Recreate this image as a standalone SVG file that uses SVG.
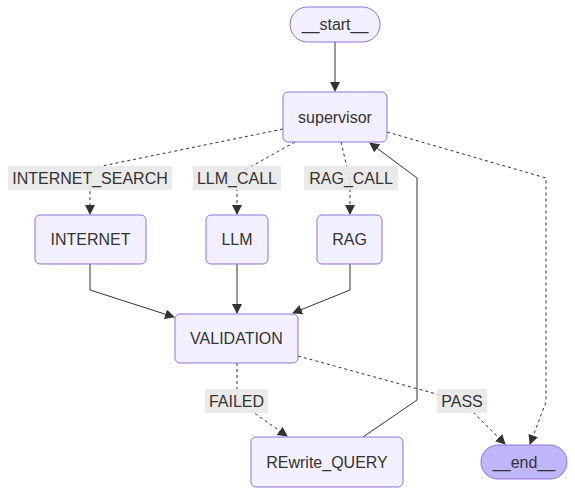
<svg xmlns="http://www.w3.org/2000/svg" width="575" height="495" viewBox="0 0 575 495">
<defs>
<marker id="ah" viewBox="0 0 10 10" refX="9" refY="5" markerWidth="10" markerHeight="10" markerUnits="userSpaceOnUse" orient="auto">
<path d="M0,0 L10,5 L0,10 z" fill="#333"/>
</marker>
<style>
.node rect{fill:#f2f0ff;stroke:#9370db;stroke-width:1}
.node.term rect{fill:#f2f0ff}
.node.endn rect{fill:#bfb6fc}
text{font-family:"Liberation Sans",Arial,sans-serif;font-size:16px;fill:#333;text-anchor:middle;dominant-baseline:central}
.e{fill:none;stroke:#333;stroke-width:1}
.d{stroke-dasharray:3 3}
.lbl rect{fill:#e8e8e8;opacity:0.9}
</style>
</defs>
<rect width="575" height="495" fill="#fff"/>
<g id="edges">
<path class="e" d="M335,42 L335,91" marker-end="url(#ah)"/>
<path class="e d" d="M283,129 L102,166 Q90,169 90,180 L90,214" marker-end="url(#ah)"/>
<path class="e d" d="M295,142 L245,170 Q237,175 237,185 L237,214" marker-end="url(#ah)"/>
<path class="e d" d="M341,142 L348,172 Q350,178 350,188 L350,214" marker-end="url(#ah)"/>
<path class="e d" d="M387,132 L546,178 L546,402 L530,444" marker-end="url(#ah)"/>
<path class="e" d="M90,264 L90,290 L174,317" marker-end="url(#ah)"/>
<path class="e" d="M237,264 L237,313" marker-end="url(#ah)"/>
<path class="e" d="M350,264 L350,290 L293,313" marker-end="url(#ah)"/>
<path class="e d" d="M237,363 L237,401 L287,436" marker-end="url(#ah)"/>
<path class="e d" d="M298,356 L462,401 L505,444" marker-end="url(#ah)"/>
<path class="e" d="M363,437 L417,400 L417,178 L370,143" marker-end="url(#ah)"/>
</g>
<g id="labels">
<g class="lbl"><rect x="8" y="166" width="164" height="24"/><text x="90" y="178">INTERNET_SEARCH</text></g>
<g class="lbl"><rect x="193" y="166" width="88" height="24"/><text x="237" y="178">LLM_CALL</text></g>
<g class="lbl"><rect x="304" y="166" width="94" height="24"/><text x="351" y="178">RAG_CALL</text></g>
<g class="lbl"><rect x="205" y="389" width="63" height="24"/><text x="236.5" y="401">FAILED</text></g>
<g class="lbl"><rect x="437" y="389" width="50" height="24"/><text x="462" y="401">PASS</text></g>
</g>
<g id="start" class="node term"><rect x="290" y="7" width="90" height="35" rx="17.5"/><text x="335" y="24.5">__start__</text></g>
<g id="supervisor" class="node"><rect x="283" y="92" width="104" height="50" rx="5"/><text x="335" y="117">supervisor</text></g>
<g id="INTERNET" class="node"><rect x="35" y="215" width="111" height="49" rx="5"/><text x="90.5" y="239.5">INTERNET</text></g>
<g id="LLM" class="node"><rect x="206" y="215" width="62" height="49" rx="5"/><text x="237" y="239.5">LLM</text></g>
<g id="RAG" class="node"><rect x="317" y="215" width="65" height="49" rx="5"/><text x="349.5" y="239.5">RAG</text></g>
<g id="VALIDATION" class="node"><rect x="175" y="314" width="123" height="49" rx="5"/><text x="236.5" y="338.5">VALIDATION</text></g>
<g id="REwrite_QUERY" class="node"><rect x="251" y="437" width="152" height="50" rx="5"/><text x="327" y="462">REwrite_QUERY</text></g>
<g id="end" class="node endn"><rect x="481" y="445" width="86" height="34" rx="17"/><text x="524" y="462">__end__</text></g>
</svg>
